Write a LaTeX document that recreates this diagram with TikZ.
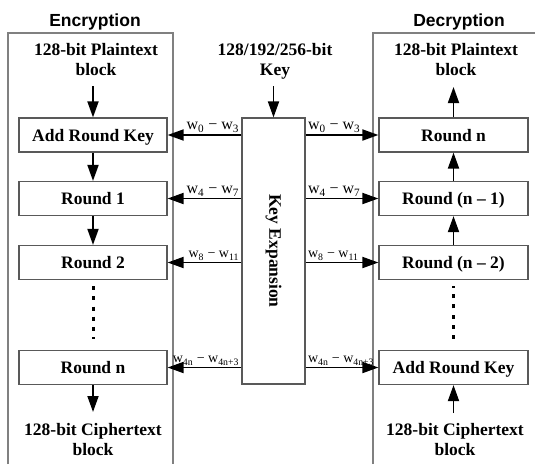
\documentclass[tikz,border=0pt]{standalone}
\usepackage{fontspec}
\setmainfont{Liberation Serif}
\setsansfont{Liberation Sans}
\usetikzlibrary{arrows.meta}
\begin{document}
\begin{tikzpicture}[x=1pt,y=-1pt,
  panel/.style={draw=black!50,line width=1.3pt},
  title/.style={font=\sffamily\bfseries\fontsize{17.5}{20}\selectfont,anchor=base},
  lbl/.style={font=\bfseries\fontsize{17.5}{20}\selectfont,align=center,inner sep=0pt},
  blk/.style={draw=black!65,line width=1.2pt,fill=white,minimum width=148pt,minimum height=34pt,
    inner sep=0pt,text height=12.5pt,text depth=0pt,font=\bfseries\fontsize{17.5}{20}\selectfont},
  kbox/.style={draw=black!65,line width=1.2pt,minimum width=63pt,minimum height=266pt,inner sep=0pt},
  arr/.style={-{Triangle[length=16pt,width=11pt]},line width=1.8pt},
  wl/.style={font=\fontsize{16}{18}\selectfont,inner sep=1.5pt},
  wls/.style={wl,font=\fontsize{14}{16}\selectfont},
  dotline/.style={line width=3pt,dash pattern=on 4pt off 6.2pt}]
\useasboundingbox (0,0) rectangle (535,464);

% side frames
\draw[panel] (8,464) -- (8,33) -- (173,33) -- (173,464);
\draw[panel] (373,464) -- (373,33) -- (535,33);

% titles
\node[title] (tEnc) at (95,26) {Encryption};
\node[title] (tDec) at (459,26) {Decryption};

% encryption column
\node[lbl] (ptE) at (96,60) {128-bit Plaintext\\block};
\node[blk] (e0) at (93,135) {Add Round Key};
\node[blk] (e1) at (93,198.5) {Round 1};
\node[blk] (e2) at (93,262.5) {Round 2};
\node[blk] (en) at (93,367.5) {Round n};
\node[lbl] (ctE) at (93,439.5) {128-bit Ciphertext\\block};
\coordinate (eIn) at (93,86);
\coordinate (eOut) at (93,412);
\draw[arr] (eIn) -- (e0.north);
\draw[arr] (e0.south) -- (e1.north);
\draw[arr] (e1.south) -- (e2.north);
\draw[dotline,shorten <=6pt,shorten >=11pt] (e2.south) -- (en.north);
\draw[arr] (en.south) -- (eOut);

% key expansion
\node[lbl] (kin) at (275,61.5) {128/192/256-bit\\Key};
\node[kbox] (kx) at (273.5,251) {};
\node[lbl,rotate=-90] (kxt) at (kx.center) {Key Expansion};
\coordinate (kIn) at (273.5,86);
\draw[arr] (kIn) -- (kx.north);

% decryption column
\node[lbl] (ptD) at (456,60) {128-bit Plaintext\\block};
\node[blk,minimum width=149pt] (d0) at (453.5,135) {Round n};
\node[blk,minimum width=149pt] (d1) at (453.5,198.5) {Round (n – 1)};
\node[blk,minimum width=149pt] (d2) at (453.5,262.5) {Round (n – 2)};
\node[blk,minimum width=149pt] (dn) at (453.5,367.5) {Add Round Key};
\node[lbl] (ctD) at (455,439.5) {128-bit Ciphertext\\block};
\coordinate (dOut) at (453.5,87);
\coordinate (dIn) at (453.5,413);
\draw[arr] (d0.north) -- (dOut);
\draw[arr] (d1.north) -- (d0.south);
\draw[arr] (d2.north) -- (d1.south);
\draw[dotline,shorten <=11pt,shorten >=6pt] (dn.north) -- (d2.south);
\draw[arr] (dIn) -- (dn.south);

% round keys to encryption
\draw[arr] (kx.west |- e0) -- (e0.east) node[pos=0,wl,anchor=south east] {w\textsubscript{0} − w\textsubscript{3}};
\draw[arr] (kx.west |- e1) -- (e1.east) node[pos=0,wl,anchor=south east] {w\textsubscript{4} − w\textsubscript{7}};
\draw[arr] (kx.west |- e2) -- (e2.east) node[pos=0,wls,anchor=south east] {w\textsubscript{8} − w\textsubscript{11}};
\draw[arr] (kx.west |- en) -- (en.east) node[pos=0,wls,anchor=south east] {w\textsubscript{4n} − w\textsubscript{4n+3}};

% round keys to decryption
\draw[arr] (kx.east |- d0) -- (d0.west) node[pos=0,wl,anchor=south west] {w\textsubscript{0} − w\textsubscript{3}};
\draw[arr] (kx.east |- d1) -- (d1.west) node[pos=0,wl,anchor=south west] {w\textsubscript{4} − w\textsubscript{7}};
\draw[arr] (kx.east |- d2) -- (d2.west) node[pos=0,wls,anchor=south west] {w\textsubscript{8} − w\textsubscript{11}};
\draw[arr] (kx.east |- dn) -- (dn.west) node[pos=0,wls,anchor=south west] {w\textsubscript{4n} − w\textsubscript{4n+3}};
\end{tikzpicture}
\end{document}
